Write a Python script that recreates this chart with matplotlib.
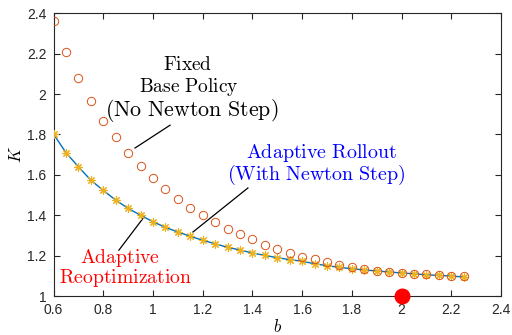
import numpy as np
import matplotlib
matplotlib.use('Agg')
import matplotlib.pyplot as plt

# b values (step 0.05) and K values
b = [0.60, 0.65, 0.70, 0.75, 0.80, 0.85, 0.90, 0.95, 1.00, 1.05, 1.10, 1.15,
     1.20, 1.25, 1.30, 1.35, 1.40, 1.45, 1.50, 1.55, 1.60, 1.65, 1.70, 1.75,
     1.80, 1.85, 1.90, 1.95, 2.00, 2.05, 2.10, 2.15, 2.20, 2.25]
k_fixed = [2.363, 2.210, 2.080, 1.967, 1.868, 1.786, 1.708, 1.644, 1.583, 1.528,
           1.480, 1.437, 1.400, 1.365, 1.333, 1.307, 1.281, 1.252, 1.232, 1.213,
           1.195, 1.183, 1.170, 1.155, 1.144, 1.132, 1.125, 1.120, 1.115, 1.110,
           1.107, 1.104, 1.101, 1.099]
k_adaptive = [1.802, 1.710, 1.640, 1.574, 1.523, 1.475, 1.434, 1.400, 1.368, 1.340,
              1.317, 1.296, 1.276, 1.259, 1.241, 1.228, 1.213, 1.201, 1.190, 1.180,
              1.172, 1.160, 1.150, 1.142, 1.135, 1.129, 1.124, 1.119, 1.114, 1.110,
              1.105, 1.102, 1.099, 1.094]
b_opt = [2.0]
k_opt = [1.0]

plt.rcParams['mathtext.fontset'] = 'cm'
plt.rcParams['font.family'] = ['Liberation Sans', 'DejaVu Sans']

fig = plt.figure(figsize=(5.12, 3.35), dpi=100)
ax = fig.add_axes([0.1045, 0.1164, 0.874, 0.8439])

ax.plot(b, k_adaptive, color='#0072BD', lw=1.0, zorder=2)
ax.plot(b, k_adaptive, ls='none', marker=(8, 2, 0), ms=6, mew=0.8,
        color='#EDB120', zorder=3)
ax.plot(b, k_fixed, ls='none', marker='o', ms=6, mfc='none', mew=0.7,
        color='#D95319', zorder=4)
ax.plot(b_opt, k_opt, ls='none', marker='o', ms=10.5, color='#FF0000',
        clip_on=False, zorder=5)

ax.set_xlim(0.6, 2.4)
ax.set_ylim(1, 2.4)
ax.set_xticks(np.arange(0.6, 2.41, 0.2))
ax.set_yticks(np.arange(1.0, 2.41, 0.2))
ax.set_xticklabels(['0.6', '0.8', '1', '1.2', '1.4', '1.6', '1.8', '2', '2.2', '2.4'])
ax.set_yticklabels(['1', '1.2', '1.4', '1.6', '1.8', '2', '2.2', '2.4'])
ax.tick_params(direction='in', top=True, right=True, length=4, width=0.8,
               labelsize=10, colors='#262626', pad=5)
for s in ax.spines.values():
    s.set_color('#262626')
    s.set_linewidth(0.8)

ax.set_xlabel(r'$b$', fontsize=12, labelpad=1)
ax.set_ylabel(r'$K$', fontsize=12, labelpad=2)

# annotations
ax.text(1.141, 2.144, r'$\mathrm{Fixed}$', ha='center', va='center', fontsize=14)
ax.text(1.145, 2.035, r'$\mathrm{Base\ Policy}$', ha='center', va='center', fontsize=14)
ax.text(1.157, 1.921, r'$\mathrm{(No\ Newton\ Step)}$', ha='center', va='center', fontsize=15.8)
ax.plot([1.069, 0.928], [1.846, 1.733], color='k', lw=0.9)

ax.text(1.680, 1.708, r'$\mathrm{Adaptive\ Rollout}$', ha='center', va='center',
        fontsize=14.4, color='#0000FF')
ax.text(1.656, 1.599, r'$\mathrm{(With\ Newton\ Step)}$', ha='center', va='center',
        fontsize=14.4, color='#0000FF')
ax.plot([1.382, 1.161], [1.535, 1.317], color='k', lw=0.9)

ax.text(0.867, 1.188, r'$\mathrm{Adaptive}$', ha='center', va='center',
        fontsize=14.2, color='#FF0000')
ax.text(0.888, 1.089, r'$\mathrm{Reoptimization}$', ha='center', va='center',
        fontsize=14.2, color='#FF0000')
ax.plot([0.863, 0.964], [1.227, 1.391], color='k', lw=0.9)

fig.savefig('out.png', dpi=100)
